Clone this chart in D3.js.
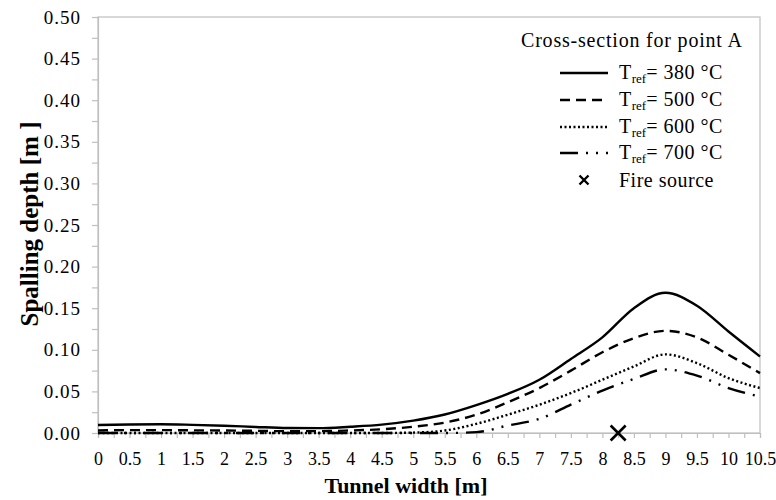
<!DOCTYPE html>
<html>
<head>
<meta charset="utf-8">
<script src="https://cdn.jsdelivr.net/npm/d3@7"></script>
<style>
  html, body { margin: 0; padding: 0; background: #fff; }
  svg { display: block; }
  text { font-family: "Liberation Serif", "Times New Roman", serif; fill: #000; }
</style>
</head>
<body>
<svg id="chart" width="776" height="500"></svg>
<script>
// Tunnel width positions [m]
const widths = [0, 0.5, 1, 1.5, 2, 2.5, 3, 3.5, 4, 4.5, 5, 5.5, 6, 6.5, 7, 7.5, 8, 8.5, 9, 9.5, 10, 10.5];

// Spalling depth [m] for each reference temperature
const depth380 = [0.0096, 0.0103, 0.0105, 0.0098, 0.0088, 0.0073, 0.0060, 0.0058, 0.0075, 0.0100, 0.0148, 0.0222, 0.0335, 0.0470, 0.0640, 0.0890, 0.1150, 0.1500, 0.1685, 0.1530, 0.1220, 0.0920];
const depth500 = [0.0030, 0.0035, 0.0035, 0.0032, 0.0030, 0.0026, 0.0022, 0.0022, 0.0030, 0.0045, 0.0075, 0.0125, 0.0220, 0.0370, 0.0540, 0.0750, 0.0970, 0.1140, 0.1228, 0.1150, 0.0940, 0.0720];
const depth600 = [0, 0, 0, 0, 0, 0, 0, 0, 0, 0, 0.0005, 0.0030, 0.0110, 0.0220, 0.0340, 0.0480, 0.0640, 0.0800, 0.0945, 0.0840, 0.0660, 0.0540];
const depth700 = [0, 0, 0, 0, 0, 0, 0, 0, 0, 0, 0, 0, 0.0010, 0.0090, 0.0170, 0.0340, 0.0510, 0.0650, 0.0765, 0.0690, 0.0540, 0.0437];

const seriesNames = ["380", "500", "600", "700"];
const fireSource = [8.25, 0];

const svg = d3.select("#chart");
const margin = { left: 98, right: 16, top: 17, bottom: 67 };
const W = 776, H = 500;

const x = d3.scaleLinear().domain([0, 10.5]).range([margin.left, W - margin.right]);
const y = d3.scaleLinear().domain([0, 0.5]).range([H - margin.bottom, margin.top]);

const grey = "#bfbfbf";

// plot frame
svg.append("rect")
  .attr("x", x(0)).attr("y", y(0.5))
  .attr("width", x(10.5) - x(0)).attr("height", y(0) - y(0.5))
  .attr("fill", "none").attr("stroke", grey).attr("stroke-width", 1.2);

// x axis: labels every 0.5, ticks every 0.25
const xAxis = d3.axisBottom(x)
  .tickValues(d3.range(0, 10.5001, 0.25))
  .tickSize(5)
  .tickFormat(d => (Math.abs(d * 2 - Math.round(d * 2)) < 1e-6) ? d3.format("~g")(+d.toFixed(2)) : "");
const gx = svg.append("g").attr("transform", `translate(0,${y(0)})`).call(xAxis);
gx.select(".domain").attr("stroke", grey).attr("stroke-width", 1.2);
gx.selectAll(".tick line").attr("stroke", grey).attr("stroke-width", 1.2);
gx.selectAll(".tick text").attr("font-size", 18).attr("font-family", "Liberation Serif").attr("dy", "0.95em").attr("y", 15);

// y axis: labels every 0.05, ticks every 0.025
const yAxis = d3.axisLeft(y)
  .tickValues(d3.range(0, 0.5001, 0.025))
  .tickSize(6)
  .tickFormat(d => (Math.abs(d * 20 - Math.round(d * 20)) < 1e-6) ? d3.format(".2f")(d) : "");
const gy = svg.append("g").attr("transform", `translate(${x(0)},0)`).call(yAxis);
gy.select(".domain").attr("stroke", grey).attr("stroke-width", 1.2);
gy.selectAll(".tick line").attr("stroke", grey).attr("stroke-width", 1.2);
gy.selectAll(".tick text").attr("font-size", 19).attr("letter-spacing", 1)
  .attr("font-family", "Liberation Serif").attr("x", -17);

// axis titles
svg.append("text")
  .attr("x", 406).attr("y", 493)
  .attr("text-anchor", "middle")
  .attr("font-size", 22).attr("font-weight", "bold")
  .text("Tunnel width [m]");

svg.append("text")
  .attr("transform", `translate(38,224) rotate(-90)`)
  .attr("text-anchor", "middle")
  .attr("font-size", 25).attr("font-weight", "bold")
  .text("Spalling depth [m ]");

// curve styles
const styles = {
  "380": { dash: null, width: 2.4 },
  "500": { dash: "10,6", width: 2.4 },
  "600": { dash: "2,2.5", width: 2.4 },
  "700": { dash: "18,8,2,8,2,8", width: 2.4 }
};
const seriesData = { "380": depth380, "500": depth500, "600": depth600, "700": depth700 };

const line = d3.line()
  .x(d => x(d[0]))
  .y(d => y(d[1]))
  .curve(d3.curveMonotoneX);

seriesNames.forEach(name => {
  const pts = widths.map((w, i) => [w, seriesData[name][i]]);
  svg.append("path")
    .datum(pts)
    .attr("d", line)
    .attr("fill", "none")
    .attr("stroke", "#000")
    .attr("stroke-width", styles[name].width)
    .attr("stroke-dasharray", styles[name].dash);
});

// fire source marker
function cross(g, cx, cy, r, sw) {
  g.append("path")
    .attr("d", `M${cx - r},${cy - r}L${cx + r},${cy + r}M${cx - r},${cy + r}L${cx + r},${cy - r}`)
    .attr("stroke", "#000").attr("stroke-width", sw).attr("fill", "none");
}
cross(svg, x(fireSource[0]), y(fireSource[1]), 7.5, 2.6);

// legend
const legend = svg.append("g");
legend.append("text")
  .attr("x", 521).attr("y", 47)
  .attr("font-size", 20).attr("letter-spacing", 0.8)
  .text("Cross-section for point A");

const rowY = [73, 100, 127, 153];
seriesNames.forEach((name, i) => {
  legend.append("line")
    .attr("x1", 560).attr("x2", 608)
    .attr("y1", rowY[i]).attr("y2", rowY[i])
    .attr("stroke", "#000")
    .attr("stroke-width", styles[name].width)
    .attr("stroke-dasharray", styles[name].dash);
  const t = legend.append("text")
    .attr("x", 619).attr("y", rowY[i] + 6)
    .attr("font-size", 20).attr("letter-spacing", 0.5);
  t.append("tspan").text("T");
  t.append("tspan").attr("font-size", 13).attr("letter-spacing", 0).attr("dy", 4).text("ref");
  t.append("tspan").attr("dy", -4).text(`= ${name} °C`);
});
cross(legend, 584, 180, 4.5, 2.4);
legend.append("text")
  .attr("x", 619).attr("y", 187)
  .attr("font-size", 20).attr("letter-spacing", 0.5)
  .text("Fire source");
</script>
</body>
</html>
